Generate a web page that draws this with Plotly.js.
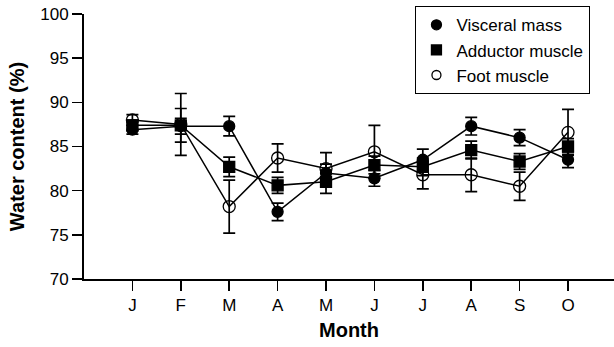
<!DOCTYPE html>
<html>
<head>
<meta charset="utf-8">
<script src="https://cdn.plot.ly/plotly-3.0.1.min.js"></script>
<style>html,body{margin:0;padding:0;background:#fff;}#chart{width:614px;height:347px;}</style>
</head>
<body>
<div id="chart"></div>
<script>
const months = ["J","F","M","A","M","J","J","A","S","O"];
const monthIndex = [0,1,2,3,4,5,6,7,8,9];

const visceral    = [86.9, 87.3, 87.3, 77.6, 82.0, 81.4, 83.5, 87.3, 86.0, 83.5];
const visceralErr = [0.5, 0.9, 1.1, 1.0, 1.0, 0.9, 1.2, 1.0, 0.9, 0.9];

const adductor    = [87.4, 87.4, 82.7, 80.6, 81.0, 82.9, 82.7, 84.6, 83.3, 85.0];
const adductorErr = [0.6, 1.9, 1.1, 0.9, 1.3, 1.0, 1.0, 1.0, 0.9, 0.9];

const foot        = [88.0, 87.5, 78.2, 83.7, 82.5, 84.4, 81.8, 81.8, 80.5, 86.6];
const footErr     = [0.6, 3.5, 3.0, 1.6, 1.8, 3.0, 1.6, 1.9, 1.6, 2.6];

const seriesNames = ["Visceral mass", "Adductor muscle", "Foot muscle"];

const FONT = "Liberation Sans, Arial, Helvetica, sans-serif";

function dataTrace(y, err, symbol, size, name) {
  return {
    x: monthIndex, y: y, name: name, showlegend: false,
    mode: "lines+markers", type: "scatter",
    line: {color: "#000", width: 1.5},
    marker: {symbol: symbol, size: size, color: "#000", line: {color: "#000", width: 1.3}},
    error_y: {type: "data", array: err, visible: true, color: "#000", thickness: 1.7, width: 6}
  };
}
function legendTrace(symbol, size, name) {
  return {
    x: [null], y: [null], name: name, mode: "markers", type: "scatter",
    marker: {symbol: symbol, size: size, color: "#000", line: {color: "#000", width: 1.3}},
    legendgroup: name
  };
}

const traces = [
  dataTrace(visceral, visceralErr, "circle", 11, seriesNames[0]),
  dataTrace(adductor, adductorErr, "square", 11, seriesNames[1]),
  dataTrace(foot, footErr, "circle-open", 12, seriesNames[2]),
  legendTrace("circle", 10, seriesNames[0]),
  legendTrace("square", 10, seriesNames[1]),
  legendTrace("circle-open", 9, seriesNames[2])
];

const layout = {
  width: 614, height: 347,
  margin: {l: 84, r: 0, t: 14, b: 68},
  paper_bgcolor: "#fff", plot_bgcolor: "#fff",
  font: {family: FONT, size: 17, color: "#000"},
  showlegend: true,
  legend: {
    x: 0.625, y: 1.03, xanchor: "left", yanchor: "top",
    bgcolor: "#fff", bordercolor: "#000", borderwidth: 1.2,
    font: {family: FONT, size: 17, color: "#000"},
    tracegroupgap: 0
  },
  xaxis: {
    range: [-1, 9.95], tickmode: "array", tickvals: monthIndex, ticktext: months,
    showgrid: false, zeroline: false, showline: true, linecolor: "#000", linewidth: 2,
    ticks: "outside", ticklen: 10, tickwidth: 1.5, tickcolor: "#000",
    tickfont: {family: FONT, size: 17, color: "#000"},
    title: {text: "<b>Month</b>", font: {family: FONT, size: 20, color: "#000"}, standoff: 9}
  },
  yaxis: {
    range: [70, 100], tickvals: [70,75,80,85,90,95,100],
    showgrid: false, zeroline: false, showline: true, linecolor: "#000", linewidth: 2,
    ticks: "outside", ticklen: 10, tickwidth: 1.5, tickcolor: "#000",
    tickfont: {family: FONT, size: 17, color: "#000"},
    title: {text: "<b>Water content (%)</b>", font: {family: FONT, size: 20, color: "#000"}, standoff: 10}
  }
};

Plotly.newPlot("chart", traces, layout, {displayModeBar: false, staticPlot: true});
</script>
</body>
</html>
